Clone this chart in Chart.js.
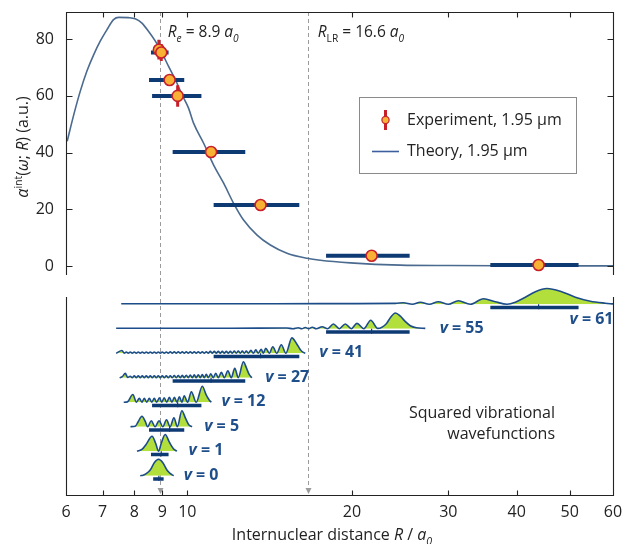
<!DOCTYPE html>
<html>
<head>
<meta charset="utf-8">
<script src="https://cdn.jsdelivr.net/npm/chart.js@4.4.1/dist/chart.umd.min.js"></script>
<style>
html, body { margin: 0; padding: 0; background: #fff; }
canvas { display: block; }
</style>
</head>
<body>
<canvas id="c" width="625" height="544"></canvas>
<script>
// *** data ***
var xTicks = [6, 7, 8, 9, 10, 20, 30, 40, 50, 60];
var yTicks = [0, 20, 40, 60, 80];
var RE = 8.9, RLR = 16.6;

// theory curve, alpha^int(omega; R) in a.u.
var theoryR =     [6.03, 6.20, 6.37, 6.55, 6.74, 6.93, 7.13, 7.33, 7.49, 7.80, 8.03, 8.26, 8.49, 8.74, 8.99, 9.24, 9.51, 9.78, 10.05, 10.27, 10.71, 11.17, 11.65, 12.15, 12.67, 13.41, 14.18, 15.21, 16.55, 17.50, 19.86, 24.5, 30.0, 40.0, 60.0];
var theoryAlpha = [44.0, 53.4, 61.6, 68.7, 74.5, 79.3, 83.4, 86.9, 87.7, 87.6, 87.2, 85.7, 82.8, 79.3, 75.1, 70.4, 65.7, 60.4, 55.7, 50.3, 43.3, 35.6, 29.2, 22.1, 16.2, 10.9, 7.4, 4.5, 2.7, 2.0, 1.1, 0.3, 0.15, 0.08, 0.04];

// experiment, one entry per vibrational level
var vLevels  = [0, 1, 5, 12, 27, 41, 55, 61];
var expR     = [8.87, 8.96, 9.28, 9.60, 11.05, 13.61, 21.72, 43.87];
var expRLow  = [8.66, 8.58, 8.51, 8.62, 9.40, 11.17, 17.93, 35.8];
var expRHigh = [9.05, 9.24, 9.87, 10.61, 12.76, 16.02, 25.49, 51.9];
var expAlpha = [76.3, 75.3, 65.6, 60.0, 40.2, 21.5, 3.6, 0.35];
var expErr   = [3.5, 3.0, 2.0, 3.8, 1.5, 1.0, 0.5, 0.3];

// squared vibrational wavefunctions, [R, |psi|^2] (arb. units)
var wave0 = [[8.20,0],[8.30,0.5],[8.41,2],[8.56,6],[8.70,13],[8.86,16.4],[9.02,13],[9.17,6],[9.31,2],[9.44,0]];
var wave1 = [[8.09,0],[8.27,2],[8.41,7],[8.62,15],[8.75,8],[8.86,0],[8.96,8],[9.11,16.7],[9.27,9],[9.43,2.5],[9.57,0]];
var wave5 = [[7.87,0],[8.03,0.5],[8.13,5],[8.26,10.5],[8.38,5],[8.46,0],[8.59,6],[8.73,0],[8.88,6],[9.02,0],[9.16,7],[9.30,0],[9.45,9],[9.59,0],[9.77,16],[9.93,8],[10.06,2],[10.20,0]];
var wave12 = [[7.65,0],[7.77,0.3],[7.95,7.7],[8.07,0],[8.17,4],[8.26,0],[8.34,4],[8.43,0],[8.52,4],[8.61,0],[8.70,4],[8.79,0],[8.89,4.5],[8.98,0],[9.07,4.5],[9.17,0],[9.27,5],[9.37,0],[9.47,5],[9.57,0],[9.67,5.5],[9.77,0],[9.87,6.5],[10.01,0],[10.17,10.5],[10.38,0],[10.65,16],[10.83,7],[10.97,2],[11.06,0]];
var wave27 = [[7.52,0],[7.605,1],[7.70,4.3],[7.78,0.3],[7.865,1.5],[7.931,0],[7.998,1.8],[8.066,0],[8.134,1.8],[8.203,0],[8.272,1.8],[8.342,0],[8.413,1.8],[8.484,0],[8.556,1.8],[8.628,0],[8.701,2],[8.775,0],[8.849,2],[8.924,0],[8.999,2],[9.075,0],[9.152,2],[9.229,0],[9.307,2],[9.386,0],[9.465,2.2],[9.545,0],[9.626,2.2],[9.707,0],[9.789,2.4],[9.872,0],[9.955,2.5],[10.04,0],[10.124,2.7],[10.21,0],[10.296,2.8],[10.383,0],[10.471,3],[10.56,0],[10.649,3.2],[10.739,0],[10.83,3.5],[10.922,0],[11.04,4],[11.15,0],[11.27,4.5],[11.391,0],[11.54,5.5],[11.683,0],[11.86,7],[12.03,0],[12.21,9.5],[12.392,0],[12.66,16],[12.817,10],[12.98,3],[13.12,0]];
var wave41 = [[7.41,0],[7.595,2.7],[7.669,0],[7.734,1.2],[7.799,0],[7.865,1.2],[7.931,0],[7.998,1.2],[8.066,0],[8.134,1.2],[8.203,0],[8.272,1.2],[8.342,0],[8.413,1.2],[8.484,0],[8.556,1.2],[8.628,0],[8.701,1.2],[8.775,0],[8.849,1.2],[8.924,0],[8.999,1.2],[9.075,0],[9.152,1.2],[9.229,0],[9.307,1.5],[9.386,0],[9.465,1.5],[9.545,0],[9.626,1.5],[9.707,0],[9.789,1.5],[9.872,0],[9.955,1.5],[10.04,0],[10.124,1.5],[10.21,0],[10.296,1.5],[10.383,0],[10.471,1.5],[10.56,0],[10.649,1.5],[10.739,0],[10.83,1.5],[10.922,0],[11.014,1.8],[11.107,0],[11.201,1.8],[11.296,0],[11.391,1.8],[11.488,0],[11.585,1.8],[11.683,0],[11.782,1.8],[11.881,0],[11.982,1.8],[12.083,0],[12.185,2.2],[12.288,0],[12.392,2.2],[12.497,0],[12.603,2.2],[12.709,0],[12.817,2.2],[12.925,0],[13.07,2.8],[13.20,0],[13.34,3.3],[13.481,0],[13.65,4],[13.77,0],[13.91,5],[14.12,0],[14.33,6.5],[14.57,0],[14.85,8.5],[15.14,0],[15.53,15.3],[15.82,10],[16.09,3.5],[16.29,0.8],[16.43,0]];
var wave55 = [[7.41,0.5],[12.0,0.5],[15.2,0.7],[15.6,0],[15.95,1],[16.19,0],[16.43,1.2],[16.675,0],[16.92,1.5],[17.21,0],[17.63,2],[18.06,0],[18.49,4.7],[18.96,0],[19.44,4.7],[19.94,0],[20.42,5.3],[21.02,0],[21.64,8.5],[22.29,0.3],[23.11,5],[23.50,11],[24.01,15.7],[24.51,12.5],[25.04,7],[25.56,3],[26.21,1],[27.23,0.3]];
var wave61 = [[7.57,0.5],[14.0,0.5],[20.0,0.6],[24.0,0.8],[24.82,1.5],[25.78,0],[26.66,2],[27.69,0],[28.76,2.5],[30.00,0],[31.29,3.5],[32.90,0],[34.79,5.5],[36.55,2.5],[38.41,0],[39.77,2],[41.49,7],[43.27,12.5],[45.44,15.7],[48.07,13],[51.20,7],[54.54,3],[58.09,1],[60.0,0.3]];
var waves = [wave0, wave1, wave5, wave12, wave27, wave41, wave55, wave61];

// *** styles ***
var FONT = '"Open Sans", "Noto Sans", sans-serif';
var NAVY = '#0e3a74';
var WAVE = '#1c4d8a';
var GREEN = '#b3df3d';
var CURVE = '#4a6a8f';
var RED = '#c8202b';
var ORANGE = '#f8b134';
var GREY = '#9b9b9b';
var INK = '#232323';
var LEVEL_GAP = 24.5;   // spacing of the wavefunction baselines (bottom panel units)
var BAR_DROP = 3.3;     // bar sits just under its baseline

function base(i) { return i * LEVEL_GAP; }

// horizontal segments with gaps between them
function hSegs(x0, x1, y) {
    var pts = [];
    for (var i = 0; i < x0.length; i++) {
        pts.push({x: x0[i], y: y[i]}, {x: x1[i], y: y[i]}, {x: x1[i], y: null});
    }
    return pts;
}
function vSegs(x, y0, y1) {
    var pts = [];
    for (var i = 0; i < x.length; i++) {
        pts.push({x: x[i], y: y0[i]}, {x: x[i], y: y1[i]}, {x: x[i], y: null});
    }
    return pts;
}

// draws text made of pieces: flags 'i' italic, 'b' bold, '_' subscript, '^' superscript
function fontOf(fl, size) {
    var s = (fl.indexOf('_') >= 0 || fl.indexOf('^') >= 0) ? size * 0.66 : size;
    return (fl.indexOf('i') >= 0 ? 'italic ' : '') + (fl.indexOf('b') >= 0 ? 'bold ' : '') + s.toFixed(1) + 'px ' + FONT;
}
function drawRich(c, parts, x, y, size, align) {
    c.save();
    c.textBaseline = 'alphabetic';
    c.textAlign = 'left';
    var w = 0;
    parts.forEach(function (p) { c.font = fontOf(p[1], size); w += c.measureText(p[0]).width; });
    var cx = align === 'center' ? x - w / 2 : (align === 'right' ? x - w : x);
    parts.forEach(function (p) {
        c.font = fontOf(p[1], size);
        var dy = p[1].indexOf('_') >= 0 ? size * 0.3 : (p[1].indexOf('^') >= 0 ? -size * 0.38 : 0);
        c.fillText(p[0], cx, y + dy);
        cx += c.measureText(p[0]).width;
    });
    c.restore();
}

// *** datasets ***
var datasets = [];

datasets.push({
    type: 'line', label: 'Theory, 1.95 µm',
    data: theoryR.map(function (r, i) { return {x: r, y: theoryAlpha[i]}; }),
    yAxisID: 'y', borderColor: CURVE, borderWidth: 1.6, pointRadius: 0,
    cubicInterpolationMode: 'monotone', fill: false, order: 20
});
datasets.push({
    type: 'line', data: hSegs(expRLow, expRHigh, expAlpha),
    yAxisID: 'y', borderColor: NAVY, borderWidth: 4, pointRadius: 0, spanGaps: false, order: 8
});
datasets.push({
    type: 'line',
    data: vSegs(expR, expAlpha.map(function (a, i) { return a - expErr[i]; }), expAlpha.map(function (a, i) { return a + expErr[i]; })),
    yAxisID: 'y', borderColor: RED, borderWidth: 3, pointRadius: 0, spanGaps: false, order: 6
});
datasets.push({
    type: 'scatter', label: 'Experiment, 1.95 µm',
    data: expR.map(function (r, i) { return {x: r, y: expAlpha[i]}; }),
    yAxisID: 'y', pointRadius: 5.5, pointBackgroundColor: ORANGE, pointBorderColor: RED,
    pointBorderWidth: 1.6, order: 1
});

// bottom panel: wavefunctions stacked by level
waves.forEach(function (w, i) {
    var b = base(i);
    datasets.push({
        type: 'line',
        data: w.map(function (p) { return {x: p[0], y: b + p[1]}; }),
        yAxisID: 'y2', borderColor: WAVE, borderWidth: 1.6, pointRadius: 0,
        cubicInterpolationMode: 'monotone',
        fill: {target: {value: b}, above: GREEN, below: 'rgba(0,0,0,0)'},
        order: 12
    });
});
var barY = vLevels.map(function (v, i) { return base(i) - BAR_DROP; });
datasets.push({
    type: 'line', data: hSegs(expRLow, expRHigh, barY),
    yAxisID: 'y2', borderColor: NAVY, borderWidth: 3.5, pointRadius: 0, spanGaps: false, order: 9
});
datasets.push({
    type: 'line',
    data: vSegs(expR, barY.map(function (y) { return y - 1.8; }), barY.map(function (y) { return y + 3.3; })),
    yAxisID: 'y2', borderColor: NAVY, borderWidth: 1.2, pointRadius: 0, spanGaps: false, order: 7
});

// *** plugins ***
var guides = {
    id: 'guides',
    beforeDatasetsDraw: function (chart) {
        var c = chart.ctx, xs = chart.scales.x, a = chart.chartArea;
        [RE, RLR].forEach(function (r) {
            var x = Math.round(xs.getPixelForValue(r)) + 0.5;
            c.save();
            c.strokeStyle = GREY; c.lineWidth = 1; c.setLineDash([4, 3]);
            c.beginPath(); c.moveTo(x, a.top); c.lineTo(x, a.bottom - 6); c.stroke();
            c.setLineDash([]);
            c.fillStyle = GREY;
            c.beginPath(); c.moveTo(x - 3, a.bottom - 7); c.lineTo(x + 3, a.bottom - 7); c.lineTo(x, a.bottom - 1); c.closePath(); c.fill();
            c.restore();
        });
    }
};

var frame = {
    id: 'frame',
    afterDatasetsDraw: function (chart) {
        var c = chart.ctx, a = chart.chartArea, xs = chart.scales.x, ys = chart.scales.y;
        var L = a.left + 0.5, R = a.right + 0.5, T = a.top + 0.5, B = a.bottom + 0.5;
        var topEnd = ys.getPixelForValue(-3.2);
        var botStart = a.bottom - 198;
        c.save();
        c.strokeStyle = INK; c.lineWidth = 1.1;
        c.beginPath();
        c.moveTo(L, topEnd); c.lineTo(L, T); c.lineTo(R, T); c.lineTo(R, topEnd);
        c.moveTo(L, botStart); c.lineTo(L, B); c.lineTo(R, B); c.lineTo(R, botStart);
        yTicks.forEach(function (v) {
            var y = Math.round(ys.getPixelForValue(v)) + 0.5;
            c.moveTo(L, y); c.lineTo(L + 6, y);
            c.moveTo(R, y); c.lineTo(R - 6, y);
        });
        xTicks.slice(1, -1).forEach(function (v) {
            var x = Math.round(xs.getPixelForValue(v)) + 0.5;
            c.moveTo(x, T); c.lineTo(x, T + 5);
            c.moveTo(x, B); c.lineTo(x, B - 5);
        });
        c.stroke();
        c.restore();
    },
    afterDraw: function (chart) {
        var c = chart.ctx, a = chart.chartArea, xs = chart.scales.x, y2 = chart.scales.y2;
        c.save();
        c.fillStyle = INK;

        // axis titles
        drawRich(c, [['Internuclear distance ', ''], ['R', 'i'], [' / ', ''], ['a', 'i'], ['0', 'i_']],
            332, 540, 16, 'center');
        c.save();
        c.translate(28, 147);
        c.rotate(-Math.PI / 2);
        drawRich(c, [['α', 'i'], ['int', '^'], ['(', ''], ['ω', 'i'], ['; ', ''], ['R', 'i'], [') (a.u.)', '']],
            0, 0, 16, 'center');
        c.restore();

        // Re and RLR labels
        drawRich(c, [['R', 'i'], ['e', 'i_'], [' = 8.9 ', ''], ['a', 'i'], ['0', 'i_']],
            xs.getPixelForValue(RE) + 8, 37, 15.5, 'left');
        drawRich(c, [['R', 'i'], ['LR', '_'], [' = 16.6 ', ''], ['a', 'i'], ['0', 'i_']],
            xs.getPixelForValue(RLR) + 10, 37, 15.5, 'left');

        // legend
        c.fillStyle = '#fff';
        c.fillRect(359.5, 97.5, 217, 76);
        c.strokeStyle = '#8a8a8a'; c.lineWidth = 1;
        c.strokeRect(359.5, 97.5, 217, 76);
        c.strokeStyle = RED; c.lineWidth = 3;
        c.beginPath(); c.moveTo(385.5, 110); c.lineTo(385.5, 130); c.stroke();
        c.fillStyle = ORANGE; c.strokeStyle = RED; c.lineWidth = 1.2;
        c.beginPath(); c.arc(385.5, 120, 3.6, 0, Math.PI * 2); c.fill(); c.stroke();
        c.strokeStyle = '#3d5f9e'; c.lineWidth = 1.6;
        c.beginPath(); c.moveTo(372, 151.5); c.lineTo(399, 151.5); c.stroke();
        c.fillStyle = INK; c.font = '16px ' + FONT; c.textBaseline = 'middle'; c.textAlign = 'left';
        c.fillText('Experiment, 1.95 µm', 407, 120);
        c.fillText('Theory, 1.95 µm', 407, 151.5);

        // panel note
        c.textAlign = 'right';
        c.fillText('Squared vibrational', 555, 413);
        c.fillText('wavefunctions', 555, 434);

        // level labels
        c.fillStyle = '#1f4f8b';
        vLevels.forEach(function (v, i) {
            var x = xs.getPixelForValue(expRHigh[i]) + 20;
            var y = y2.getPixelForValue(base(i)) - 2;
            if (v === 55) { x += 10; }
            if (v === 61) { x -= 29; y += 16; }
            drawRich(c, [['v', 'ib'], [' = ' + v, 'b']], x, y + 6, 16, 'left');
        });
        c.restore();
    }
};

// *** chart ***
var ctx = document.getElementById('c').getContext('2d');
var myChart = new Chart(ctx, {
    data: {datasets: datasets},
    options: {
        responsive: false,
        animation: false,
        events: [],
        layout: {padding: {top: 12, right: 12, left: 0, bottom: 0}},
        plugins: {legend: {display: false}, tooltip: {enabled: false}},
        scales: {
            x: {
                type: 'logarithmic', min: 6, max: 60, position: 'bottom',
                grid: {display: false, drawTicks: false}, border: {display: false},
                ticks: {
                    font: {family: FONT, size: 16}, color: INK, padding: 8,
                    autoSkip: false, maxRotation: 0, minRotation: 0,
                    callback: function (v) { return String(v); }
                },
                afterBuildTicks: function (s) { s.ticks = xTicks.map(function (v) { return {value: v}; }); },
                afterFit: function (s) { s.height = 49; s.paddingLeft = 0; s.paddingRight = 0; }
            },
            y: {
                type: 'linear', min: -80.8, max: 89.6, position: 'left',
                grid: {display: false, drawTicks: false}, border: {display: false},
                ticks: {font: {family: FONT, size: 16}, color: INK, padding: 12},
                afterBuildTicks: function (s) { s.ticks = yTicks.map(function (v) { return {value: v}; }); },
                afterFit: function (s) { s.width = 66; s.paddingTop = 0; s.paddingBottom = 0; }
            },
            y2: {type: 'linear', min: -19.3, max: 463.7, display: false}
        }
    },
    plugins: [guides, frame]
});
</script>
</body>
</html>
